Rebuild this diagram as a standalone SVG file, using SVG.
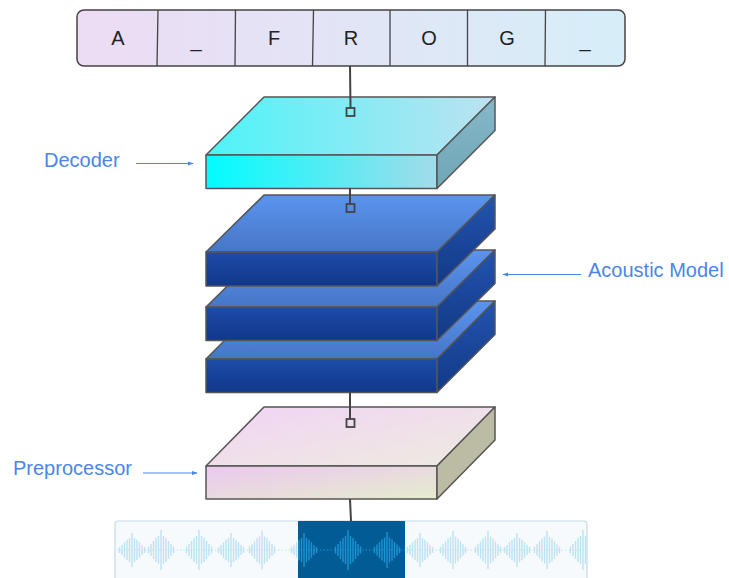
<svg xmlns="http://www.w3.org/2000/svg" width="729" height="578" viewBox="0 0 729 578">
<style>
.edge{stroke:#555;stroke-width:1.5;stroke-linejoin:round}
.tok{font-family:"Liberation Sans",Arial,sans-serif;font-size:20px;fill:#222;text-anchor:middle}
.lbl{font-family:"Liberation Sans",Arial,sans-serif;font-size:20px;fill:#4a86e8}
.larrow{stroke:#4a86e8;stroke-width:1.2;fill:none;marker-end:url(#ah)}
.conn{stroke:#444;stroke-width:2;fill:none}
.sq{stroke:#444;stroke-width:1.8;fill:none}
</style>
<defs>
<marker id="ah" viewBox="0 0 10 10" refX="9" refY="5" markerWidth="6" markerHeight="6" orient="auto" markerUnits="userSpaceOnUse"><path d="M0 1.5L10 5L0 8.5z" fill="#4a86e8"/></marker>
<linearGradient id="tokG" x1="0" y1="0" x2="1" y2="0"><stop offset="0" stop-color="#eddcf3"/><stop offset="1" stop-color="#d6eef9"/></linearGradient>
<linearGradient id="decTop" x1="0" y1="0" x2="1" y2="0"><stop offset="0" stop-color="#4cf4f8"/><stop offset="1" stop-color="#bde2f0"/></linearGradient>
<linearGradient id="decFront" x1="0" y1="0" x2="1" y2="0"><stop offset="0" stop-color="#00fdff"/><stop offset="1" stop-color="#a4dbea"/></linearGradient>
<linearGradient id="decRight" x1="0" y1="0" x2="0" y2="1"><stop offset="0" stop-color="#86b8c8"/><stop offset="1" stop-color="#6fa6b6"/></linearGradient>
<linearGradient id="acTop" x1="0" y1="0" x2="0" y2="1"><stop offset="0" stop-color="#5b94ef"/><stop offset="1" stop-color="#4676c6"/></linearGradient>
<linearGradient id="acFront" x1="0" y1="0" x2="0" y2="1"><stop offset="0" stop-color="#1d4ca8"/><stop offset="1" stop-color="#11378a"/></linearGradient>
<linearGradient id="acRight" x1="0" y1="0" x2="0" y2="1"><stop offset="0" stop-color="#2354ae"/><stop offset="1" stop-color="#123986"/></linearGradient>
<linearGradient id="preTop" x1="0" y1="0" x2="1" y2="1"><stop offset="0" stop-color="#f1d4f5"/><stop offset="1" stop-color="#eeebdf"/></linearGradient>
<linearGradient id="preFront" x1="0" y1="0" x2="1" y2="1"><stop offset="0" stop-color="#ebc8ef"/><stop offset="1" stop-color="#e6ecce"/></linearGradient>
<clipPath id="darkClip"><rect x="298" y="521" width="107" height="57"/></clipPath>
<clipPath id="boxClip"><rect x="115" y="521" width="472" height="57"/></clipPath>
<path id="b" d="M-12.5 -3.5v7M-10 -6v12M-7.5 -9v18M-5 -12v24M-2.5 -14v28M0 -20v40M2.5 -14v28M5 -12v24M7.5 -9v18M10 -6v12M12.5 -3.5v7"/>
<g id="waveBars" fill="none">
<line x1="117" y1="550" x2="586" y2="550" stroke-dasharray="1.5 2"/>
<g stroke-width="1.4">
<use href="#b" transform="translate(132,550) scale(1,0.85)"/>
<use href="#b" transform="translate(161,550)"/>
<use href="#b" transform="translate(199,550)"/>
<use href="#b" transform="translate(231,550) scale(1,0.85)"/>
<use href="#b" transform="translate(262,550) scale(1,0.97)"/>
<use href="#b" transform="translate(304,550) scale(1,0.85)"/>
<use href="#b" transform="translate(348,550)"/>
<use href="#b" transform="translate(387,550) scale(1,0.9)"/>
<use href="#b" transform="translate(420,550) scale(1,0.85)"/>
<use href="#b" transform="translate(453,550) scale(1,0.95)"/>
<use href="#b" transform="translate(488,550) scale(1,0.95)"/>
<use href="#b" transform="translate(517,550) scale(1,0.85)"/>
<use href="#b" transform="translate(547,550) scale(1,0.95)"/>
<use href="#b" transform="translate(583,550)"/>
</g>
</g>
</defs>
<rect width="729" height="578" fill="#fff"/>

<g id="tokens">
<rect x="77" y="10" width="548" height="56" rx="7" fill="url(#tokG)" stroke="#444" stroke-width="1.5"/>
<g stroke="#444" stroke-width="1.3">
<line x1="158" y1="10" x2="157" y2="66"/>
<line x1="235.5" y1="10" x2="235" y2="66"/>
<line x1="313.5" y1="10" x2="312.5" y2="66"/>
<line x1="390" y1="10" x2="390" y2="66"/>
<line x1="467.5" y1="10" x2="467.5" y2="66"/>
<line x1="545.5" y1="10" x2="545" y2="66"/>
</g>
<text class="tok" x="118" y="44.5">A</text>
<text class="tok" x="196" y="47">_</text>
<text class="tok" x="274" y="44.5">F</text>
<text class="tok" x="351" y="44.5">R</text>
<text class="tok" x="429" y="44.5">O</text>
<text class="tok" x="507" y="44.5">G</text>
<text class="tok" x="585" y="47">_</text>
</g>

<g id="decoder">
<polygon class="edge" points="206,155 264,97 495,97 437,155" fill="url(#decTop)"/>
<rect class="edge" x="206" y="155" width="231" height="33.5" fill="url(#decFront)"/>
<polygon class="edge" points="437,155 495,97 495,130.5 437,188.5" fill="url(#decRight)"/>
</g>

<g id="acoustic-model">
<g id="layer3">
<polygon class="edge" points="206,359 264,301 495,301 437,359" fill="url(#acTop)"/>
<rect class="edge" x="206" y="359" width="231" height="33.5" fill="url(#acFront)"/>
<polygon class="edge" points="437,359 495,301 495,334.5 437,392.5" fill="url(#acRight)"/>
</g>
<g id="layer2">
<polygon class="edge" points="206,307 264,250 495,250 437,307" fill="url(#acTop)"/>
<rect class="edge" x="206" y="307" width="231" height="33.5" fill="url(#acFront)"/>
<polygon class="edge" points="437,307 495,250 495,283.5 437,340.5" fill="url(#acRight)"/>
</g>
<g id="layer1">
<polygon class="edge" points="206,252 264,195 495,195 437,252" fill="url(#acTop)"/>
<rect class="edge" x="206" y="252" width="231" height="34" fill="url(#acFront)"/>
<polygon class="edge" points="437,252 495,195 495,229 437,286" fill="url(#acRight)"/>
</g>
</g>

<g id="preprocessor">
<polygon class="edge" points="206,466 264,407 495,407 437,466" fill="url(#preTop)"/>
<rect class="edge" x="206" y="466" width="231" height="33" fill="url(#preFront)"/>
<polygon class="edge" points="437,466 495,407 495,440 437,499" fill="#bcbca5"/>
</g>

<g id="waveform">
<rect x="115" y="521" width="472" height="62" rx="3" fill="#f7fafc" stroke="#c3dae6" stroke-width="1.2"/>
<use href="#waveBars" stroke="#bde2f2" clip-path="url(#boxClip)"/>
<rect x="298" y="521" width="107" height="57" fill="#015b94"/>
<use href="#waveBars" stroke="#1b93d4" clip-path="url(#darkClip)"/>
</g>

<g id="connectors">
<line class="conn" x1="350" y1="66" x2="350.5" y2="108"/>
<rect class="sq" x="346.5" y="108" width="8" height="8"/>
<line class="conn" x1="350" y1="188.5" x2="350" y2="204"/>
<rect class="sq" x="346.5" y="204" width="8" height="8"/>
<line class="conn" x1="350" y1="392.5" x2="350" y2="419"/>
<rect class="sq" x="346.5" y="419" width="8" height="8"/>
<line class="conn" x1="350" y1="499" x2="351" y2="521"/>
</g>

<g id="labels">
<text class="lbl" x="44" y="167">Decoder</text>
<line class="larrow" x1="136" y1="163.5" x2="193" y2="163.5"/>
<text class="lbl" x="588" y="277">Acoustic Model</text>
<line class="larrow" x1="581" y1="274.5" x2="503" y2="274.5"/>
<text class="lbl" x="13" y="475">Preprocessor</text>
<line class="larrow" x1="143" y1="473" x2="197" y2="473"/>
</g>
</svg>
